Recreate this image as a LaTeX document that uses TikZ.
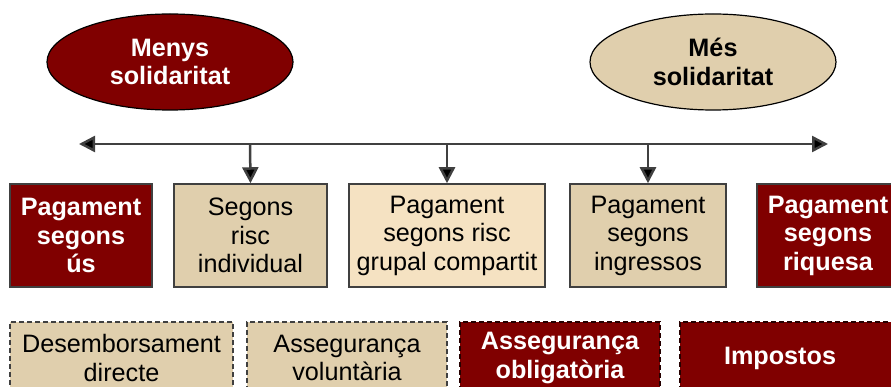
\documentclass[tikz,border=0pt]{standalone}
\usepackage{fontspec}
\setmainfont{Liberation Sans}
\usetikzlibrary{arrows.meta,shapes.geometric}
\definecolor{dred}{RGB}{128,0,0}
\definecolor{tan}{RGB}{224,207,173}
\definecolor{ltan}{RGB}{245,226,194}
\definecolor{edge}{RGB}{64,64,64}
\tikzset{
  txt/.style={font=\fontsize{25.2}{28.5}\selectfont, align=center, inner sep=0pt},
  boxbase/.style={txt, rectangle, draw=edge, line width=1.5pt, minimum height=103pt},
  redbox/.style={boxbase, fill=dred, text=white, font=\fontsize{25.2}{28.5}\selectfont\bfseries},
  tanbox/.style={boxbase, fill=tan},
  ltanbox/.style={boxbase, fill=ltan},
  dashbox/.style={txt, rectangle, draw=edge, line width=1.8pt, dash pattern=on 5pt off 3pt, minimum height=72pt, fill=tan},
  dashred/.style={txt, rectangle, draw=black!70!dred, line width=1.8pt, dash pattern=on 5pt off 3pt, minimum height=72pt, fill=dred, text=white, font=\fontsize{25.2}{28.5}\selectfont\bfseries},
  oval/.style={txt, ellipse, draw=black, line width=1.2pt, minimum width=246pt, minimum height=96pt, font=\fontsize{25.2}{28.5}\selectfont\bfseries},
  axisline/.style={draw=edge, line width=2.5pt, {Triangle[length=16pt,width=16pt,fill=black]}-{Triangle[length=16pt,width=16pt,fill=black]}},
  downarrow/.style={draw=edge, line width=2.5pt, -{Triangle[length=16pt,width=16pt,fill=black]}}
}
\begin{document}
\begin{tikzpicture}[x=1pt,y=-1pt]
\clip (0,0) rectangle (891,387);
\fill[white] (0,0) rectangle (891,387);
% ellipses
\node[oval, fill=dred, text=white] (less) at (170,62) {Menys\\solidaritat};
\node[oval, fill=tan] (more) at (713,62) {Més\\solidaritat};
% axis
\coordinate (L) at (79,144);
\coordinate (R) at (828,144);
\coordinate (a1) at (250,144);
\coordinate (a2) at (447,144);
\coordinate (a3) at (648,144);
\draw[axisline] (L) -- (R);
% top row boxes
\node[redbox, minimum width=142pt] (b1) at (81,235.5) {Pagament\\segons\\ús};
\node[tanbox, minimum width=153pt] (b2) at (250.5,235.5) {Segons\\risc\\individual};
\node[ltanbox, minimum width=196pt] (b3) at (447,235.5) {Pagament\\segons risc\\grupal compartit};
\node[tanbox, minimum width=156pt] (b4) at (648,235.5) {Pagament\\segons\\ingressos};
\node[redbox, minimum width=142pt] (b5) at (828,235.5) {Pagament\\segons\\riquesa};
\draw[downarrow] (a1) -- (b2.north);
\draw[downarrow] (a2) -- (b3.north);
\draw[downarrow] (a3) -- (b4.north);
% bottom row
\node[dashbox, minimum width=223pt] (c1) at (121.5,358) {Desemborsament\\directe};
\node[dashbox, minimum width=200pt] (c2) at (347,358) {Assegurança\\voluntària};
\node[dashred, minimum width=200pt] (c3) at (560,358) {Assegurança\\obligatòria};
\node[dashred, minimum width=220pt] (c4) at (790,358) {Impostos\hspace*{20pt}};
\end{tikzpicture}
\end{document}
